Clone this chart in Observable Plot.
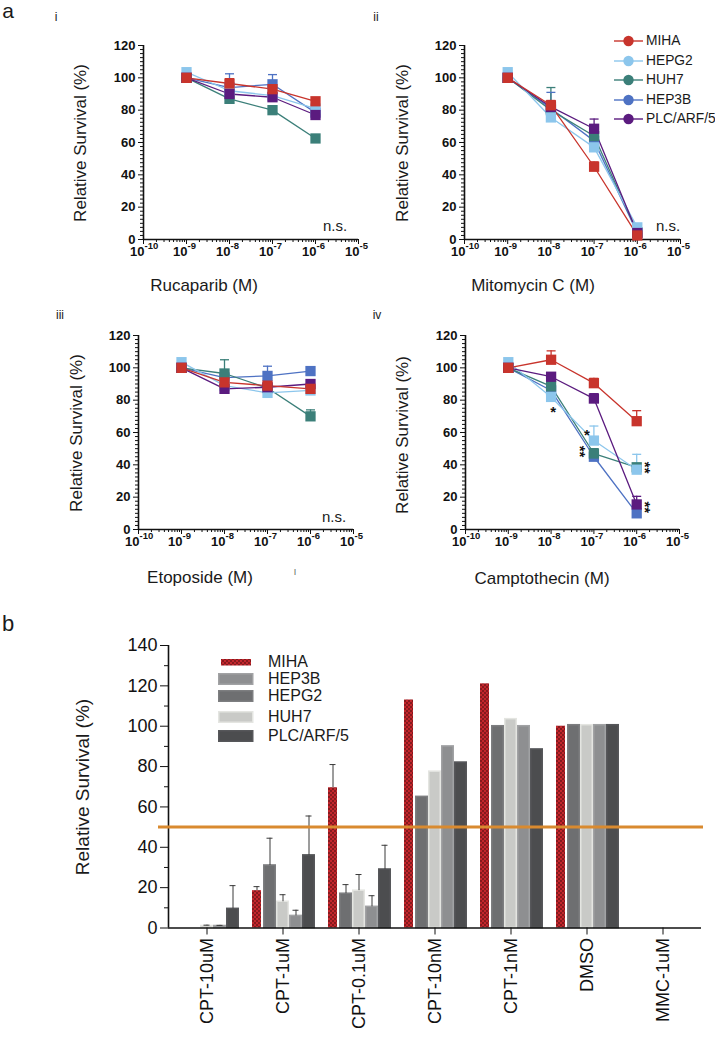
<!DOCTYPE html>
<html><head><meta charset="utf-8">
<script src="https://cdn.jsdelivr.net/npm/d3@7"></script>
<script src="https://cdn.jsdelivr.net/npm/@observablehq/plot@0.6"></script>
<style>
body{margin:0;background:#fff}
#root{position:relative;width:715px;height:1039px;overflow:hidden;font-family:"Liberation Sans",Arial,sans-serif;color:#1a1a1a}
.abs{position:absolute;white-space:nowrap;line-height:1}
#root svg{position:absolute}
</style></head>
<body><div id="root"></div>
<script>
// ---------- data: dose–response panels ----------
const doses = [1e-9, 1e-8, 1e-7, 1e-6];
const decades = [1e-10, 1e-9, 1e-8, 1e-7, 1e-6, 1e-5];
const lineTicks = [0, 20, 40, 60, 80, 100, 120];
const lineSeries = ["MIHA", "HEPG2", "HUH7", "HEP3B", "PLC/ARF/5"];
const lineColors = ["#c8342c", "#8cc6ec", "#3b7f79", "#4e72c3", "#5b1b7f"];
const drawOrder = ["HEP3B", "HUH7", "HEPG2", "PLC/ARF/5", "MIHA"];
// rows follow lineSeries order
const rucaparibValues = [[100, 96.5, 93, 85.5], [103.5, 92, 89, 81], [100, 87, 80, 62.5], [100, 94, 96, 78.5], [100, 90, 88, 77]];
const rucaparibErrors = [[1, 3, 3, 2], [1, 2, 2, 2], [1, 2, 2, 2], [1, 8.5, 6, 2], [1, 2, 2, 2]];
const mitomycinValues = [[100, 83, 45, 2.5], [103.5, 75.5, 57, 7.5], [100, 80, 64, 4.5], [100, 81, 61, 4], [100, 82, 68.5, 4]];
const mitomycinErrors = [[1, 3, 3, 1], [1, 2, 3, 1], [1, 14, 3, 1], [1, 10, 3, 1], [1, 3, 6, 1]];
const etoposideValues = [[100, 91, 89, 87], [103.5, 89, 84.5, 86], [100, 96.5, 87.5, 70], [100, 94, 95, 98], [100, 87, 88, 90]];
const etoposideErrors = [[1, 3, 2, 2], [1, 2, 2, 2], [1, 8.5, 2, 4], [1, 2, 6, 2], [1, 2, 2, 2]];
const camptothecinValues = [[100, 105, 90.5, 67], [103.5, 82, 55, 37], [100, 88.5, 47, 38.5], [100, 86, 45, 10], [100, 94.5, 81, 15.5]];
const camptothecinErrors = [[1, 5.5, 3, 6.5], [1, 2, 9, 9.5], [1, 3, 3, 2], [1, 2, 2, 2], [1, 2, 3, 5]];

// ---------- data: bar chart ----------
const barCategories = ["CPT-10uM", "CPT-1uM", "CPT-0.1uM", "CPT-10nM", "CPT-1nM", "DMSO", "MMC-1uM"];
const barSeries = ["MIHA", "HEPG2", "HUH7", "HEP3B", "PLC/ARF/5"];
const barColors = ["url(#mihaDots)", "#6e6f71", "#c9cac7", "#8e8f91", "#4c4d4f"];
const barLegendOrder = ["MIHA", "HEP3B", "HEPG2", "HUH7", "PLC/ARF/5"];
const barTicks = [0, 20, 40, 60, 80, 100, 120, 140];
const barMinorTicks = [10, 30, 50, 70, 90, 110, 130];
const barThreshold = [50];
// rows follow barSeries order, columns follow barCategories
const barValues = [
  [0, 18.5, 69.5, 113, 121, 100, 0],
  [0, 31, 17, 65, 100, 100.5, 0],
  [1, 13, 18.5, 77.5, 103.5, 100.5, 0],
  [1, 6, 10.5, 90, 100, 100.5, 0],
  [9.5, 36, 29, 82, 88.5, 100.5, 0]
];
const barErrors = [
  [0, 2, 11.5, 0, 0, 0, 0],
  [0, 13.5, 4.5, 0, 0, 0, 0],
  [0.4, 3.5, 8, 0, 0, 0, 0],
  [0.3, 2.8, 5.5, 0, 0, 0, 0],
  [11.5, 19.5, 12, 0, 0, 0, 0]
];

// ---------- helpers ----------
const FONT = "Liberation Sans, Arial, sans-serif";
const root = document.getElementById("root");
function label(text, x, y, {size = 17, weight = "normal", rotate = 0, anchor = "middle", color = "#1a1a1a"} = {}) {
  const d = document.createElement("div");
  d.className = "abs";
  d.textContent = text;
  d.style.fontSize = size + "px";
  d.style.fontWeight = weight;
  d.style.color = color;
  d.style.left = x + "px";
  d.style.top = y + "px";
  const tx = anchor === "start" ? "0" : anchor === "end" ? "-100%" : "-50%";
  d.style.transform = `translate(${tx},-50%)` + (rotate ? ` rotate(${rotate}deg)` : "");
  root.appendChild(d);
}
function place(svg, left, top) {
  svg.style.left = left + "px";
  svg.style.top = top + "px";
  root.appendChild(svg);
}

// pattern defs
root.insertAdjacentHTML("beforeend", `<svg width="0" height="0" style="left:0;top:0"><defs>
<pattern id="mihaDots" patternUnits="userSpaceOnUse" width="4" height="4">
<rect width="4" height="4" fill="#c3262c"/><circle cx="1" cy="1" r="0.75" fill="#2b0707"/><circle cx="3" cy="3" r="0.75" fill="#2b0707"/>
</pattern></defs></svg>`);

const xMinor = [];
for (let k = -10; k <= -6; k++) for (let m = 2; m <= 9; m++) xMinor.push(m * Math.pow(10, k));
const yMinor = [];
for (let v = 0; v <= 120; v += 2.5) if (v % 20 !== 0) yMinor.push(v);
const capSymbol = {draw(ctx) { ctx.moveTo(-4.5, 0); ctx.lineTo(4.5, 0); }};

function linePanel({left, top, width, height, mL, mR, mT, mB, values, errors, stars = []}) {
  const rows = [];
  for (const name of drawOrder) {
    const s = lineSeries.indexOf(name);
    doses.forEach((d, i) => rows.push({series: name, dose: d, value: values[s][i], err: errors[s][i]}));
  }
  const starMarks = stars.map(st => Plot.text(rows, {
    filter: d => d.series === st.series && d.dose === st.dose,
    x: "dose", y: "value", text: () => st.text, dx: st.dx, dy: st.dy, rotate: st.rotate || 0,
    fontSize: 15, fontWeight: "bold", fill: "#111"
  }));
  const svg = Plot.plot({
    width, height, marginLeft: mL, marginRight: mR, marginTop: mT, marginBottom: mB,
    style: {background: "transparent", fontFamily: FONT, overflow: "visible", color: "#111"},
    x: {type: "log", domain: [1e-10, 1e-5]},
    y: {domain: [0, 120]},
    color: {domain: lineSeries, range: lineColors},
    marks: [
      Plot.axisY({ticks: yMinor, tickSize: 3, tickFormat: () => "", label: null}),
      Plot.axisY({ticks: lineTicks, tickSize: 5, tickPadding: 3, fontSize: 13, fontWeight: "bold", label: null}),
      Plot.axisX({ticks: xMinor, tickSize: 3, tickFormat: () => "", label: null}),
      Plot.axisX({ticks: decades, tickSize: 5, tickFormat: () => "", label: null}),
      Plot.ruleX([1e-10], {strokeWidth: 1.6}),
      Plot.ruleY([0], {strokeWidth: 1.6}),
      Plot.text(decades, {x: d => d, frameAnchor: "bottom", lineAnchor: "middle", text: () => "10", dy: 12, dx: 1, textAnchor: "end", fontSize: 13, fontWeight: "bold"}),
      Plot.text(decades, {x: d => d, frameAnchor: "bottom", lineAnchor: "middle", text: d => "-" + Math.round(-Math.log10(d)), dy: 6, dx: 1, textAnchor: "start", fontSize: 9.5, fontWeight: "bold"}),
      Plot.line(rows, {x: "dose", y: "value", z: "series", stroke: "series", strokeWidth: 1.3}),
      Plot.ruleX(rows, {x: "dose", y1: "value", y2: d => d.value + d.err, stroke: "series", strokeWidth: 1.3}),
      Plot.dot(rows, {x: "dose", y: d => d.value + d.err, symbol: capSymbol, stroke: "series", strokeWidth: 1.3, r: 3}),
      Plot.dot(rows, {x: "dose", y: "value", symbol: "square", fill: "series", r: 5.8}),
      ...starMarks
    ]
  });
  place(svg, left, top);
}

// ---------- panel a ----------
label("a", 8, 10, {size: 21});
label("b", 8, 624, {size: 22});

linePanel({left: 0, top: 0, width: 362, height: 300, mL: 143, mR: 4, mT: 45, mB: 61, values: rucaparibValues, errors: rucaparibErrors});
linePanel({left: 355, top: 0, width: 360, height: 300, mL: 109, mR: 35, mT: 45, mB: 61, values: mitomycinValues, errors: mitomycinErrors});
linePanel({left: 0, top: 300, width: 360, height: 300, mL: 138, mR: 7, mT: 35, mB: 71, values: etoposideValues, errors: etoposideErrors});
linePanel({left: 355, top: 300, width: 360, height: 300, mL: 110, mR: 36, mT: 35, mB: 71, values: camptothecinValues, errors: camptothecinErrors,
  stars: [
    {series: "HEPG2", dose: 1e-8, text: "*", dx: 2, dy: 15},
    {series: "HEPG2", dose: 1e-7, text: "*", dx: -7, dy: -5},
    {series: "HUH7", dose: 1e-7, text: "**", dx: -14, dy: -2, rotate: 90},
    {series: "HEPG2", dose: 1e-6, text: "**", dx: 8, dy: -2, rotate: 90},
    {series: "HEP3B", dose: 1e-6, text: "**", dx: 8, dy: -6, rotate: 90}
  ]});

// panel headings and axis titles
label("i", 56, 17, {size: 12});
label("ii", 376, 17, {size: 12});
label("iii", 60, 315, {size: 12});
label("iv", 377, 315, {size: 12});
label("Rucaparib (M)", 204, 285);
label("Mitomycin C (M)", 533, 285);
label("Etoposide (M)", 200, 577);
label("Camptothecin (M)", 542, 578);
label("Relative Survival (%)", 80, 143, {rotate: -90});
label("Relative Survival (%)", 402, 143, {rotate: -90});
label("Relative Survival (%)", 76, 433, {rotate: -90});
label("Relative Survival (%)", 402, 435, {rotate: -90});
label("n.s.", 335, 225, {size: 15});
label("n.s.", 668, 225, {size: 15});
label("n.s.", 334, 516, {size: 15});
label("I", 295, 572, {size: 9, color: "#666"});

// panel ii legend
lineSeries.forEach((name, i) => {
  const y = [41, 61, 80, 100, 119][i];
  const c = lineColors[i];
  root.insertAdjacentHTML("beforeend",
    `<svg width="32" height="14" style="left:613px;top:${y - 7}px"><line x1="1" y1="7" x2="30" y2="7" stroke="${c}" stroke-width="1.4"/><circle cx="15.5" cy="7" r="5.2" fill="${c}"/></svg>`);
  label(name, 646, y, {size: 13.8, anchor: "start"});
});

// ---------- panel b ----------
const barRows = [];
barCategories.forEach((c, ci) => barSeries.forEach((s, si) =>
  barRows.push({cat: c, series: s, value: barValues[si][ci], err: barErrors[si][ci]})));

const barDims = {width: 715, height: 409, marginLeft: 168, marginRight: 14, marginTop: 15, marginBottom: 111.5};
const barMarks = barSeries.map((s, si) => Plot.barY(barRows, {
  filter: d => d.series === s, fx: "cat", x: "series", y: "value",
  fill: barColors[si],
  stroke: si === 0 ? "none" : d3.color(barColors[si]).brighter(0.35).formatHex(),
  strokeWidth: 1.5,
  insetLeft: si === 0 ? 2 : 0.75, insetRight: si === 0 ? 2 : 0.75
}));
const errRows = barRows.filter(d => d.err > 0);
const barSvg = Plot.plot({
  ...barDims,
  style: {background: "transparent", fontFamily: FONT, overflow: "visible", color: "#111"},
  fx: {domain: barCategories, paddingInner: 0.146, paddingOuter: 0.073, label: null},
  x: {domain: barSeries, padding: 0, axis: null},
  y: {domain: [0, 140], axis: null},
  marks: [
    ...barMarks,
    Plot.ruleX(errRows, {fx: "cat", x: "series", y1: "value", y2: d => d.value + d.err, stroke: "#3a3a3a", strokeWidth: 1}),
    Plot.tickY(errRows, {fx: "cat", x: "series", y: d => d.value + d.err, stroke: "#3a3a3a", strokeWidth: 1, insetLeft: 3.5, insetRight: 3.5}),
    Plot.axisFx({anchor: "bottom", tickSize: 7, tickPadding: 3, tickRotate: -90, fontSize: 18, label: null})
  ]
});
place(barSvg, 0, 630);

const barOverlay = Plot.plot({
  ...barDims,
  style: {background: "transparent", fontFamily: FONT, overflow: "visible", color: "#111"},
  x: {domain: [0, 1], axis: null},
  y: {domain: [0, 140]},
  marks: [
    Plot.axisY({ticks: barMinorTicks, tickSize: 4, tickFormat: () => "", label: null}),
    Plot.axisY({ticks: barTicks, tickSize: 8, tickPadding: 3, fontSize: 18, label: null}),
    Plot.ruleX([0], {strokeWidth: 1.6}),
    Plot.ruleY([0], {strokeWidth: 1.6}),
    Plot.ruleY(barThreshold, {stroke: "#d98a2f", strokeWidth: 3, insetLeft: -10, insetRight: -2})
  ]
});
place(barOverlay, 0, 630);

label("Relative Survival (%)", 82, 787, {size: 19, rotate: -90});

// bar legend
barLegendOrder.forEach((name, i) => {
  const y = [662, 679, 696, 717, 736][i];
  const si = barSeries.indexOf(name);
  const c = barColors[si];
  const sw = si === 0
    ? `<svg width="36" height="12" style="left:218px;top:${y - 6}px"><rect x="3" y="3" width="30" height="6.5" fill="${c}"/></svg>`
    : `<svg width="36" height="12" style="left:218px;top:${y - 6}px"><rect x="0.75" y="0.75" width="34" height="10.5" fill="${c}" stroke="${d3.color(c).brighter(0.35).formatHex()}" stroke-width="1.5"/></svg>`;
  root.insertAdjacentHTML("beforeend", sw);
  label(name, 268, y, {size: 16, anchor: "start"});
});
</script></body></html>
